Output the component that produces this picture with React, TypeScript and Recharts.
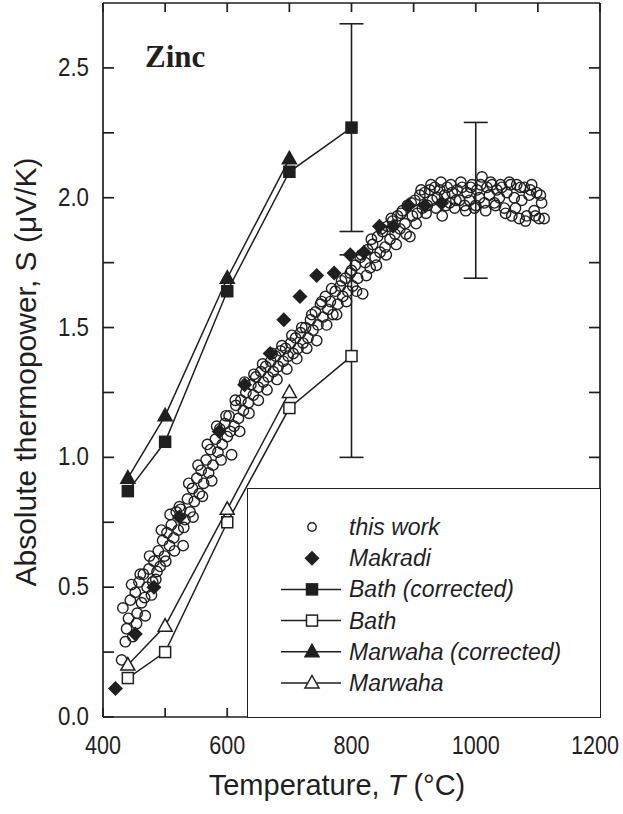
import React from 'react';
import { ScatterChart, Scatter, XAxis, YAxis, ErrorBar, Legend, Label } from 'recharts';

const INK = '#1f1f1f';
const SANS = '"Liberation Sans", Arial, Helvetica, sans-serif';

// this work (circles), first run
const thisWorkT = [
  430, 432, 436, 441, 444, 448, 452, 455, 458, 462, 465, 468, 471, 474, 478, 482, 485, 489, 492, 496,
  499, 503, 507, 510, 514, 518, 521, 525, 529, 532, 536, 540, 544, 547, 551, 555, 558, 562, 566, 570,
  573, 577, 581, 585, 588, 592, 596, 600, 603, 607, 611, 614, 618, 622, 626, 630, 634, 638, 642, 646,
  650, 654, 658, 662, 666, 670, 674, 678, 682, 686, 690, 694, 698, 702, 706, 710, 714, 718, 722, 726,
  730, 734, 738, 742, 746, 750, 754, 758, 762, 766, 770, 774, 778, 782, 786, 790, 794, 798, 802, 806,
  810, 814, 818, 822, 826, 830, 834, 838, 842, 846, 850, 854, 858, 862, 866, 870, 874, 878, 882, 886,
  890, 894, 898, 902, 906, 910, 914, 918, 922, 926, 930, 934, 938, 942, 946, 950, 954, 958, 962, 966,
  970, 974, 978, 982, 986, 990, 994, 998, 1002, 1006, 1010, 1014, 1018, 1022, 1026, 1030, 1034, 1038,
  1042, 1046, 1050, 1054, 1058, 1062, 1066, 1070, 1074, 1078, 1082, 1086, 1090, 1094, 1098, 1102, 1106, 1110,
];
const thisWorkS = [
  0.22, 0.42, 0.29, 0.38, 0.45, 0.31, 0.48, 0.4, 0.52, 0.44, 0.55, 0.39, 0.5, 0.57, 0.47, 0.6, 0.53, 0.64, 0.58, 0.68,
  0.62, 0.71, 0.66, 0.74, 0.69, 0.79, 0.72, 0.8, 0.66, 0.76, 0.84, 0.79, 0.88, 0.83, 0.92, 0.86, 0.95, 0.9, 0.99, 0.94,
  1.03, 0.97, 1.07, 1.02, 1.11, 1.05, 1.13, 1.08, 1.16, 1.01, 1.12, 1.2, 1.15, 1.22, 1.18, 1.25, 1.21, 1.28, 1.24, 1.31,
  1.27, 1.33, 1.29, 1.35, 1.31, 1.37, 1.33, 1.39, 1.35, 1.41, 1.37, 1.42, 1.39, 1.44, 1.4, 1.46, 1.42, 1.48, 1.44, 1.5,
  1.46, 1.53, 1.49, 1.56, 1.51, 1.59, 1.54, 1.62, 1.57, 1.6, 1.55, 1.64, 1.59, 1.66, 1.62, 1.69, 1.64, 1.71, 1.66, 1.74,
  1.69, 1.77, 1.63, 1.75, 1.8, 1.73, 1.82, 1.77, 1.85, 1.79, 1.87, 1.81, 1.89, 1.84, 1.91, 1.86, 1.93, 1.88, 1.95, 1.9,
  1.97, 1.85, 1.93, 1.99, 1.94, 2.01, 1.96, 2.02, 1.97, 2.03, 1.99, 2.04, 2.0, 2.03, 1.93, 2.01, 2.04, 1.98, 2.02, 1.96,
  2.03, 1.99, 2.04, 1.97, 2.02, 1.99, 2.05, 1.96, 2.03, 2.0, 2.08, 1.98, 2.04, 2.01, 2.05, 1.98, 2.03, 2.0,
  2.04, 1.96, 2.02, 2.06, 1.93, 2.0, 2.05, 1.92, 1.99, 2.04, 1.93, 2.01, 2.05, 1.95, 2.02, 1.92, 1.98, 1.92,
];
// this work, second run
const thisWork2T = [
  438, 446, 454, 460, 467, 475, 480, 487, 494, 501,
  508, 515, 523, 530, 538, 545, 553, 560, 568, 575,
  583, 590, 598, 605, 613, 620, 628, 635, 643, 650,
  657, 664, 672, 680, 688, 696, 704, 712, 720, 728,
  736, 744, 752, 760, 768, 776, 784, 792, 800, 808,
  816, 824, 832, 840, 848, 856, 864, 872, 880, 888,
  896, 904, 912, 920, 928, 936, 944, 952, 960, 968,
  976, 984, 992, 1000, 1008, 1016, 1024, 1032, 1040, 1048,
  1056, 1064, 1072, 1080, 1088, 1096, 1104,
];
const thisWork2S = [
  0.34, 0.51, 0.36, 0.55, 0.46, 0.62, 0.52, 0.56, 0.72, 0.6,
  0.78, 0.64, 0.81, 0.73, 0.9, 0.77, 0.97, 0.85, 1.05, 0.91,
  1.12, 0.99, 1.16, 1.1, 1.22, 1.1, 1.29, 1.17, 1.32, 1.22,
  1.36, 1.26, 1.4, 1.3, 1.43, 1.34, 1.47, 1.38, 1.5, 1.42,
  1.55, 1.45, 1.6, 1.51, 1.65, 1.55, 1.68, 1.6, 1.72, 1.64,
  1.78, 1.7, 1.84, 1.74, 1.88, 1.78, 1.92, 1.82, 1.94, 1.86,
  1.98, 1.9, 2.03, 1.94, 2.05, 1.96, 2.06, 1.97, 2.05, 1.99,
  2.06, 1.95, 2.04, 1.97, 2.05, 1.95, 2.06, 1.97, 2.05, 1.94,
  2.05, 1.96, 2.04, 1.91, 2.03, 1.93, 2.01,
];

// Makradi (diamonds)
const makradiT = [420, 452, 482, 523, 587, 628, 669, 691, 717, 744, 772, 798, 820, 845, 867, 892, 918, 945];
const makradiS = [0.11, 0.32, 0.5, 0.77, 1.1, 1.28, 1.4, 1.53, 1.62, 1.7, 1.71, 1.78, 1.79, 1.89, 1.89, 1.97, 1.97, 1.98];

// Bath and Marwaha
const bathT = [440, 500, 600, 700, 800];
const bathCorrS = [0.87, 1.06, 1.64, 2.1, 2.27];
const bathS = [0.15, 0.25, 0.75, 1.19, 1.39];
const marwahaT = [440, 500, 600, 700];
const marwahaCorrS = [0.92, 1.16, 1.69, 2.15];
const marwahaS = [0.2, 0.35, 0.8, 1.25];

// error bars
const errT = [800, 800, 1000];
const errS = [2.27, 1.39, 1.99];
const errE = [0.4, 0.39, 0.3];

const xTicks = [400, 500, 600, 700, 800, 900, 1000, 1100, 1200];
const yTicks = [0, 0.25, 0.5, 0.75, 1, 1.25, 1.5, 1.75, 2, 2.25, 2.5];

const pts = (xs: number[], ys: number[]) => xs.map((x, i) => ({ x, y: ys[i] }));

const thisWork = [...pts(thisWorkT, thisWorkS), ...pts(thisWork2T, thisWork2S)];
const makradi = pts(makradiT, makradiS);
const bathCorr = pts(bathT, bathCorrS);
const bath = pts(bathT, bathS);
const marwahaCorr = pts(marwahaT, marwahaCorrS);
const marwaha = pts(marwahaT, marwahaS);
const errPts = errT.map((x, i) => ({ x, y: errS[i], e: errE[i] }));

const OpenCircle = (p: any) => <circle cx={p.cx} cy={p.cy} r={5.2} fill="none" stroke={INK} strokeWidth={1.4} />;
const Diamond = (p: any) => (
  <path d={`M${p.cx},${p.cy - 7.5}L${p.cx + 7.5},${p.cy}L${p.cx},${p.cy + 7.5}L${p.cx - 7.5},${p.cy}Z`} fill={INK} />
);
const Square = (filled: boolean) => (p: any) => (
  <rect x={p.cx - 5.5} y={p.cy - 5.5} width={11} height={11} fill={filled ? INK : '#fff'} stroke={INK} strokeWidth={1.5} />
);
const Triangle = (filled: boolean) => (p: any) => (
  <path d={`M${p.cx},${p.cy - 7.5}L${p.cx + 7},${p.cy + 5}L${p.cx - 7},${p.cy + 5}Z`} fill={filled ? INK : '#fff'} stroke={INK} strokeWidth={1.5} />
);
const Nothing = () => <g />;

const isHalf = (v: number) => Math.abs(v * 2 - Math.round(v * 2)) < 1e-9;

const BottomTick = (p: any) => {
  const v = p.payload.value;
  // last label sits against the page edge, nudge it in a bit
  const lx = v === 1200 ? p.x - 5 : p.x;
  return (
    <g>
      <line x1={p.x} y1={p.y} x2={p.x} y2={p.y - 9} stroke={INK} strokeWidth={1.7} />
      {v % 200 === 0 && (
        <text transform={`translate(${lx},${p.y + 37}) scale(0.9,1.05)`} textAnchor="middle" fontSize={24} fill={INK} fontFamily={SANS}>
          {v}
        </text>
      )}
    </g>
  );
};
const TopTick = (p: any) => <line x1={p.x} y1={p.y} x2={p.x} y2={p.y + 9} stroke={INK} strokeWidth={1.7} />;
const LeftTick = (p: any) => {
  const v = p.payload.value;
  return (
    <g>
      <line x1={p.x} y1={p.y} x2={p.x + 11} y2={p.y} stroke={INK} strokeWidth={1.7} />
      {isHalf(v) && (
        <text transform={`translate(${p.x - 14},${p.y + 8}) scale(0.93,1.05)`} textAnchor="end" fontSize={24} fill={INK} fontFamily={SANS}>
          {v.toFixed(1)}
        </text>
      )}
    </g>
  );
};
const RightTick = (p: any) => <line x1={p.x} y1={p.y} x2={p.x - 11} y2={p.y} stroke={INK} strokeWidth={1.7} />;

const legendRows = ['this work', 'Makradi', 'Bath (corrected)', 'Bath', 'Marwaha (corrected)', 'Marwaha'];

const LegendBox = () => {
  const sx = 64;
  return (
    <svg width={352} height={228} style={{ display: 'block' }}>
      {legendRows.map((name, i) => {
        const cy = 38 + i * 31.2;
        let mark: React.ReactNode = null;
        if (i === 0) mark = <circle cx={sx} cy={cy} r={4.2} fill="none" stroke={INK} strokeWidth={1.4} />;
        else if (i === 1) mark = Diamond({ cx: sx, cy });
        else if (i === 2) mark = Square(true)({ cx: sx, cy });
        else if (i === 3) mark = Square(false)({ cx: sx, cy });
        else if (i === 4) mark = Triangle(true)({ cx: sx, cy });
        else mark = Triangle(false)({ cx: sx, cy });
        return (
          <g key={name}>
            {i > 1 && <line x1={33} y1={cy} x2={93} y2={cy} stroke={INK} strokeWidth={1.5} />}
            {mark}
            <text x={101} y={cy + 8} fontSize={23} fontStyle="italic" fill={INK} fontFamily={SANS}>
              {name}
            </text>
          </g>
        );
      })}
    </svg>
  );
};

export default function App() {
  return (
    <div style={{ position: 'absolute', left: 0, top: 0, width: 623, height: 814, background: '#fff' }}>
      <ScatterChart width={623} height={814} margin={{ top: 2, right: 22, bottom: 0, left: 0 }}>
        <XAxis
          xAxisId="b"
          type="number"
          dataKey="x"
          domain={[400, 1200]}
          ticks={xTicks}
          allowDataOverflow
          height={97}
          axisLine={{ stroke: INK, strokeWidth: 1.7 }}
          tickLine={false}
          tickSize={0}
          tickMargin={0}
          tick={<BottomTick />}
          interval={0}
        >
          <Label
            content={() => (
              <text x={337} y={795} textAnchor="middle" fontSize={29} fill={INK} fontFamily={SANS}>
                Temperature, <tspan fontStyle="italic">T</tspan> (°C)
              </text>
            )}
          />
        </XAxis>
        <XAxis
          xAxisId="t"
          orientation="top"
          type="number"
          dataKey="x"
          domain={[400, 1200]}
          ticks={xTicks}
          allowDataOverflow
          height={1}
          axisLine={{ stroke: INK, strokeWidth: 1.7 }}
          tickLine={false}
          tickSize={0}
          tickMargin={0}
          tick={<TopTick />}
          interval={0}
        >
          <Label
            content={() => (
              <text x={145} y={67} fontSize={31} fontWeight="bold" fill={INK} fontFamily='"Liberation Serif", "Times New Roman", serif'>
                Zinc
              </text>
            )}
          />
        </XAxis>
        <YAxis
          yAxisId="l"
          type="number"
          dataKey="y"
          domain={[0, 2.75]}
          ticks={yTicks}
          allowDataOverflow
          width={103}
          axisLine={{ stroke: INK, strokeWidth: 1.7 }}
          tickLine={false}
          tickSize={0}
          tickMargin={0}
          tick={<LeftTick />}
          interval={0}
        >
          <Label
            content={() => (
              <text transform="translate(36,372) rotate(-90)" textAnchor="middle" fontSize={30} fill={INK} fontFamily={SANS}>
                Absolute thermopower, S (μV/K)
              </text>
            )}
          />
        </YAxis>
        <YAxis
          yAxisId="r"
          orientation="right"
          type="number"
          dataKey="y"
          domain={[0, 2.75]}
          ticks={yTicks}
          allowDataOverflow
          width={1}
          axisLine={{ stroke: INK, strokeWidth: 1.7 }}
          tickLine={false}
          tickSize={0}
          tickMargin={0}
          tick={<RightTick />}
          interval={0}
        />
        <Scatter name="err" data={errPts} xAxisId="b" yAxisId="l" shape={Nothing} isAnimationActive={false} legendType="none">
          <ErrorBar dataKey="e" direction="y" width={12} stroke={INK} strokeWidth={1.6} isAnimationActive={false} />
        </Scatter>
        <Scatter name="this work" data={thisWork} xAxisId="b" yAxisId="l" shape={OpenCircle} isAnimationActive={false} />
        <Scatter
          name="Bath"
          data={bath}
          xAxisId="b"
          yAxisId="l"
          line={{ stroke: INK, strokeWidth: 1.5 }}
          shape={Square(false)}
          isAnimationActive={false}
        />
        <Scatter
          name="Marwaha"
          data={marwaha}
          xAxisId="b"
          yAxisId="l"
          line={{ stroke: INK, strokeWidth: 1.5 }}
          shape={Triangle(false)}
          isAnimationActive={false}
        />
        <Scatter name="Makradi" data={makradi} xAxisId="b" yAxisId="l" shape={Diamond} isAnimationActive={false} />
        <Scatter
          name="Bath (corrected)"
          data={bathCorr}
          xAxisId="b"
          yAxisId="l"
          line={{ stroke: INK, strokeWidth: 1.5 }}
          shape={Square(true)}
          isAnimationActive={false}
        />
        <Scatter
          name="Marwaha (corrected)"
          data={marwahaCorr}
          xAxisId="b"
          yAxisId="l"
          line={{ stroke: INK, strokeWidth: 1.5 }}
          shape={Triangle(true)}
          isAnimationActive={false}
        />
        <Legend
          verticalAlign="middle"
          layout="horizontal"
          content={() => <LegendBox />}
          wrapperStyle={{
            left: 247,
            top: 488,
            width: 354,
            height: 230,
            border: `1.7px solid ${INK}`,
            background: '#fff',
            boxSizing: 'border-box',
            bottom: 'auto',
            right: 'auto',
          }}
        />
      </ScatterChart>
    </div>
  );
}
